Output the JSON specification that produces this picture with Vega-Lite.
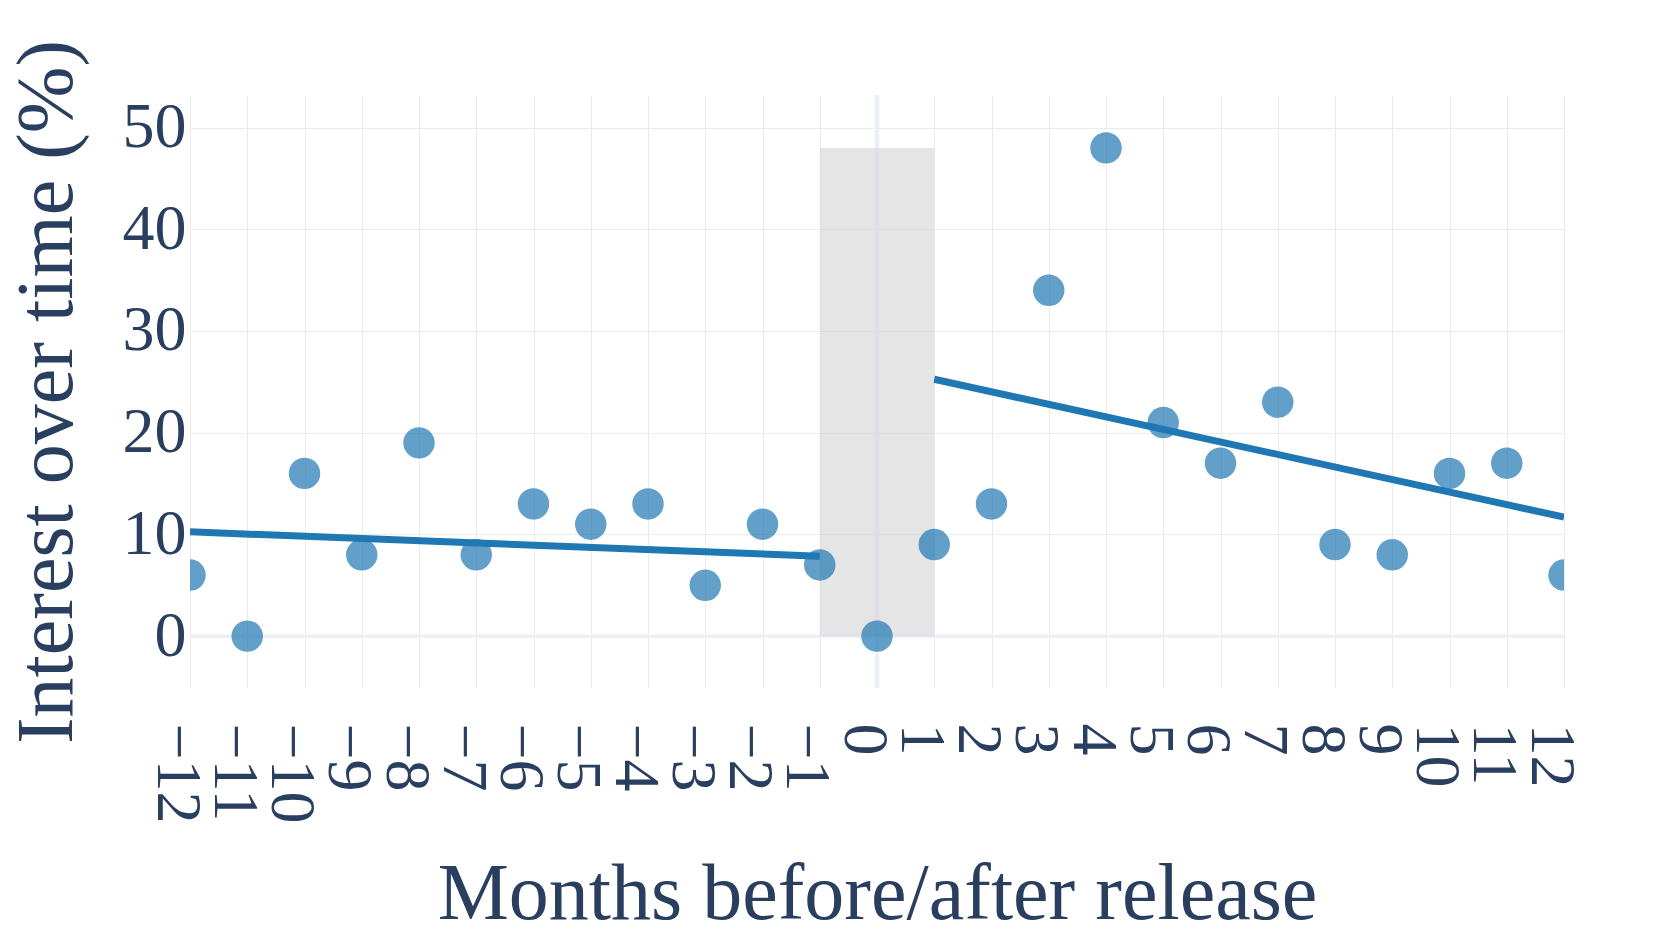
{
  "$schema": "https://vega.github.io/schema/vega-lite/v6.json",
  "width": 1374,
  "height": 593,
  "autosize": {"type": "none"},
  "padding": {"left": 190, "top": 95, "right": 97, "bottom": 261},
  "background": "white",
  "config": {
    "view": {"stroke": null},
    "axisX": {
      "domain": false,
      "ticks": false,
      "tickSize": 0,
      "grid": true,
      "gridColor": "#ebebeb",
      "gridWidth": 1,
      "labelFont": "Liberation Serif",
      "labelFontSize": 64,
      "labelColor": "#2a3f5f",
      "labelAngle": 90,
      "labelAlign": "left",
      "labelBaseline": "middle",
      "labelPadding": 35,
      "labelOffset": -14,
      "labelFlush": false,
      "labelOverlap": false,
      "labelBound": false,
      "titleFont": "Liberation Serif",
      "titleFontSize": 80,
      "titleFontWeight": "normal",
      "titleColor": "#2a3f5f",
      "titleBaseline": "alphabetic",
      "titleAlign": "center",
      "titleAnchor": "middle",
      "titleX": 687,
      "titleY": 230
    },
    "axisY": {
      "domain": false,
      "ticks": false,
      "tickSize": 0,
      "grid": true,
      "gridColor": "#ebebeb",
      "gridWidth": 1,
      "labelFont": "Liberation Serif",
      "labelFontSize": 64,
      "labelColor": "#2a3f5f",
      "labelPadding": 4,
      "labelFlush": false,
      "labelOverlap": false,
      "labelBound": false,
      "titleFont": "Liberation Serif",
      "titleFontSize": 80,
      "titleFontWeight": "normal",
      "titleColor": "#2a3f5f",
      "titleAngle": 270,
      "titleBaseline": "alphabetic",
      "titleAlign": "center",
      "titleAnchor": "middle",
      "titleX": -119,
      "titleY": 296.5
    }
  },
  "datasets": {
    "points": [
      {"month": -12, "interest": 6},
      {"month": -11, "interest": 0},
      {"month": -10, "interest": 16},
      {"month": -9, "interest": 8},
      {"month": -8, "interest": 19},
      {"month": -7, "interest": 8},
      {"month": -6, "interest": 13},
      {"month": -5, "interest": 11},
      {"month": -4, "interest": 13},
      {"month": -3, "interest": 5},
      {"month": -2, "interest": 11},
      {"month": -1, "interest": 7},
      {"month": 0, "interest": 0},
      {"month": 1, "interest": 9},
      {"month": 2, "interest": 13},
      {"month": 3, "interest": 34},
      {"month": 4, "interest": 48},
      {"month": 5, "interest": 21},
      {"month": 6, "interest": 17},
      {"month": 7, "interest": 23},
      {"month": 8, "interest": 9},
      {"month": 9, "interest": 8},
      {"month": 10, "interest": 16},
      {"month": 11, "interest": 17},
      {"month": 12, "interest": 6}
    ],
    "trend": [
      {"seg": "pre", "month": -12, "interest": 10.25},
      {"seg": "pre", "month": -1, "interest": 7.85},
      {"seg": "post", "month": 1, "interest": 25.25},
      {"seg": "post", "month": 12, "interest": 11.7}
    ],
    "band": [
      {"x1": -1, "x2": 1, "y1": 0, "y2": 48}
    ],
    "zero": [
      {"month": 0, "interest": 0}
    ]
  },
  "layer": [
    {
      "data": {"name": "zero"},
      "mark": {"type": "rule", "color": "#ebf0f8", "strokeWidth": 3.5},
      "encoding": {
        "y": {
          "field": "interest", "type": "quantitative",
          "scale": {"domain": [-5.1, 53.2], "nice": false, "zero": false},
          "axis": {"values": [0, 10, 20, 30, 40, 50], "title": "Interest over time (%)"}
        }
      }
    },
    {
      "data": {"name": "zero"},
      "mark": {"type": "rule", "color": "#ebf0f8", "strokeWidth": 4.5},
      "encoding": {
        "x": {
          "field": "month", "type": "quantitative",
          "scale": {"domain": [-12, 12], "nice": false, "zero": false},
          "axis": {"values": [-12, -11, -10, -9, -8, -7, -6, -5, -4, -3, -2, -1, 0, 1, 2, 3, 4, 5, 6, 7, 8, 9, 10, 11, 12], "title": "Months before/after release"}
        }
      }
    },
    {
      "data": {"name": "band"},
      "mark": {"type": "rect", "color": "#d3d3d3", "opacity": 0.6},
      "encoding": {
        "x": {
          "field": "x1", "type": "quantitative",
          "axis": {"values": [-12, -11, -10, -9, -8, -7, -6, -5, -4, -3, -2, -1, 0, 1, 2, 3, 4, 5, 6, 7, 8, 9, 10, 11, 12], "title": "Months before/after release"}
        },
        "x2": {"field": "x2"},
        "y": {
          "field": "y1", "type": "quantitative",
          "axis": {"values": [0, 10, 20, 30, 40, 50], "title": "Interest over time (%)"}
        },
        "y2": {"field": "y2"}
      }
    },
    {
      "data": {"name": "points"},
      "mark": {"type": "circle", "color": "#1f77b4", "opacity": 0.7, "size": 990, "clip": true},
      "encoding": {
        "x": {
          "field": "month", "type": "quantitative",
          "axis": {"values": [-12, -11, -10, -9, -8, -7, -6, -5, -4, -3, -2, -1, 0, 1, 2, 3, 4, 5, 6, 7, 8, 9, 10, 11, 12], "title": "Months before/after release"}
        },
        "y": {
          "field": "interest", "type": "quantitative",
          "axis": {"values": [0, 10, 20, 30, 40, 50], "title": "Interest over time (%)"}
        }
      }
    },
    {
      "data": {"name": "trend"},
      "mark": {"type": "line", "color": "#1f77b4", "strokeWidth": 7, "clip": true},
      "encoding": {
        "x": {
          "field": "month", "type": "quantitative",
          "axis": {"values": [-12, -11, -10, -9, -8, -7, -6, -5, -4, -3, -2, -1, 0, 1, 2, 3, 4, 5, 6, 7, 8, 9, 10, 11, 12], "title": "Months before/after release"}
        },
        "y": {
          "field": "interest", "type": "quantitative",
          "axis": {"values": [0, 10, 20, 30, 40, 50], "title": "Interest over time (%)"}
        },
        "detail": {"field": "seg"}
      }
    }
  ]
}
